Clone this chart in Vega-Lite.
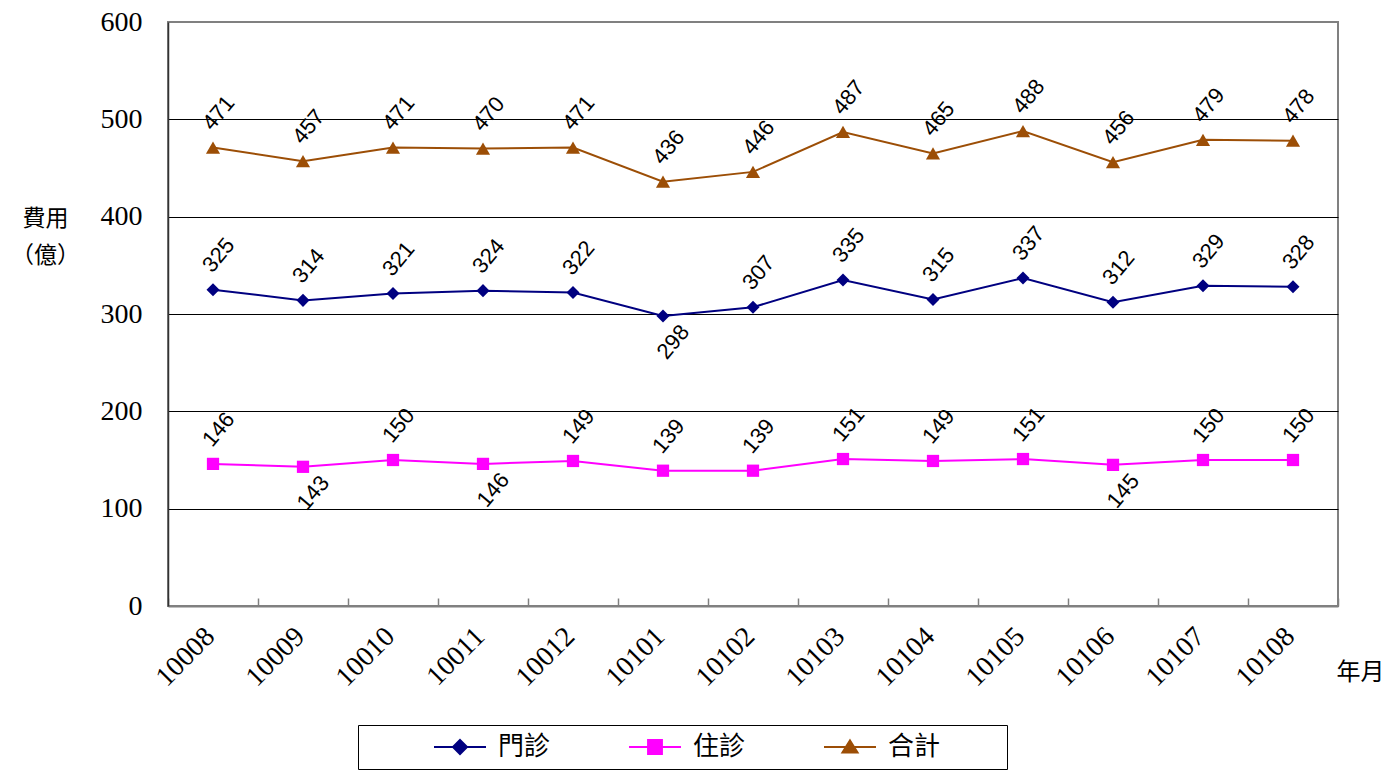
{
  "$schema": "https://vega.github.io/schema/vega-lite/v6.json",
  "width": 1170,
  "height": 584,
  "autosize": {"type": "none"},
  "padding": {"left": 168, "top": 22, "right": 54, "bottom": 165},
  "background": "white",
  "config": {
    "view": {"stroke": "#808080", "strokeWidth": 2}
  },
  "data": {
    "values": [
      {"month": "10008", "series": "門診", "value": 325},
      {"month": "10009", "series": "門診", "value": 314},
      {"month": "10010", "series": "門診", "value": 321},
      {"month": "10011", "series": "門診", "value": 324},
      {"month": "10012", "series": "門診", "value": 322},
      {"month": "10101", "series": "門診", "value": 298},
      {"month": "10102", "series": "門診", "value": 307},
      {"month": "10103", "series": "門診", "value": 335},
      {"month": "10104", "series": "門診", "value": 315},
      {"month": "10105", "series": "門診", "value": 337},
      {"month": "10106", "series": "門診", "value": 312},
      {"month": "10107", "series": "門診", "value": 329},
      {"month": "10108", "series": "門診", "value": 328},
      {"month": "10008", "series": "住診", "value": 146},
      {"month": "10009", "series": "住診", "value": 143},
      {"month": "10010", "series": "住診", "value": 150},
      {"month": "10011", "series": "住診", "value": 146},
      {"month": "10012", "series": "住診", "value": 149},
      {"month": "10101", "series": "住診", "value": 139},
      {"month": "10102", "series": "住診", "value": 139},
      {"month": "10103", "series": "住診", "value": 151},
      {"month": "10104", "series": "住診", "value": 149},
      {"month": "10105", "series": "住診", "value": 151},
      {"month": "10106", "series": "住診", "value": 145},
      {"month": "10107", "series": "住診", "value": 150},
      {"month": "10108", "series": "住診", "value": 150},
      {"month": "10008", "series": "合計", "value": 471},
      {"month": "10009", "series": "合計", "value": 457},
      {"month": "10010", "series": "合計", "value": 471},
      {"month": "10011", "series": "合計", "value": 470},
      {"month": "10012", "series": "合計", "value": 471},
      {"month": "10101", "series": "合計", "value": 436},
      {"month": "10102", "series": "合計", "value": 446},
      {"month": "10103", "series": "合計", "value": 487},
      {"month": "10104", "series": "合計", "value": 465},
      {"month": "10105", "series": "合計", "value": 488},
      {"month": "10106", "series": "合計", "value": 456},
      {"month": "10107", "series": "合計", "value": 479},
      {"month": "10108", "series": "合計", "value": 478}
    ]
  },
  "encoding": {
    "x": {
      "field": "month",
      "type": "nominal",
      "sort": null,
      "scale": {"type": "band", "paddingInner": 0, "paddingOuter": 0},
      "axis": {
        "title": "年月",
        "titleFont": "Noto Sans CJK TC",
        "titleFontSize": 24,
        "titleFontWeight": "normal",
        "titleAngle": 0,
        "titleX": 1192,
        "titleY": 66,
        "titleAlign": "center",
        "titleBaseline": "middle",
        "labelAngle": -45,
        "labelAlign": "right",
        "labelBaseline": "middle",
        "labelFont": "Liberation Serif",
        "labelFontSize": 28,
        "labelColor": "black",
        "labelPadding": 34,
        "labelOffset": -3,
        "tickBand": "extent",
        "tickSize": -8,
        "tickColor": "#808080",
        "tickWidth": 1.5,
        "domainColor": "#808080",
        "domainWidth": 2,
        "grid": false
      }
    },
    "y": {
      "field": "value",
      "type": "quantitative",
      "scale": {"domain": [0, 600], "nice": false, "zero": true},
      "axis": {
        "values": [0, 100, 200, 300, 400, 500, 600],
        "title": ["費用", "（億）"],
        "titleFont": "Noto Sans CJK TC",
        "titleFontSize": 23,
        "titleFontWeight": "normal",
        "titleAngle": 0,
        "titleX": -123,
        "titleY": 196,
        "titleAlign": "center",
        "titleBaseline": "middle",
        "titleLineHeight": 37,
        "labelFont": "Liberation Serif",
        "labelFontSize": 28,
        "labelColor": "black",
        "labelPadding": 26,
        "ticks": false,
        "tickSize": 0,
        "domainColor": "#333333",
        "domainWidth": 1.5,
        "grid": true,
        "gridColor": {"condition": {"test": "datum.value == 600 || datum.value == 0", "value": "#808080"}, "value": "black"},
        "gridWidth": 1,
        "gridOpacity": 1
      }
    },
    "color": {
      "field": "series",
      "type": "nominal",
      "scale": {"domain": ["門診", "住診", "合計"], "range": ["#000080", "#FF00FF", "#9C4E06"]},
      "legend": {
        "orient": "none",
        "legendX": 190,
        "legendY": 703,
        "direction": "horizontal",
        "strokeColor": "black",
        "fillColor": "white",
        "padding": 9,
        "title": "　",
        "titleFont": "Noto Sans CJK TC",
        "titleOrient": "left",
        "titleFontSize": 26,
        "titlePadding": 80,
        "labelFont": "Noto Sans CJK TC",
        "labelFontSize": 26,
        "labelColor": "black",
        "labelOffset": 25,
        "columnPadding": 74,
        "symbolSize": 300,
        "symbolStrokeWidth": 2,
        "labelExpr": "datum.label == '合計' ? '合計\u2800\u2800\u2800' : datum.label",
        "encode": {
          "symbols": {
            "update": {
              "shape": {"signal": "datum.value === '門診' ? 'M-3,0H3M0,-0.81L0.81,0L0,0.81L-0.81,0Z' : datum.value === '住診' ? 'M-3,0H3M-0.8,-0.8H0.8V0.8H-0.8Z' : 'M-3,0H3M0,-0.75L0.87,0.64H-0.87Z'"},
              "fill": {"scale": "color", "field": "value"},
              "stroke": {"scale": "color", "field": "value"},
              "strokeWidth": {"value": 2},
              "strokeOpacity": {"value": 1},
              "fillOpacity": {"value": 1},
              "opacity": {"value": 1}
            }
          }
        }
      }
    }
  },
  "layer": [
    {
      "mark": {"type": "line", "strokeWidth": 2}
    },
    {
      "transform": [{"filter": "datum.series == '門診'"}],
      "mark": {"type": "point", "filled": true, "opacity": 1, "shape": "diamond", "size": 170}
    },
    {
      "transform": [{"filter": "datum.series == '住診'"}],
      "mark": {"type": "point", "filled": true, "opacity": 1, "shape": "square", "size": 150}
    },
    {
      "transform": [{"filter": "datum.series == '合計'"}],
      "mark": {"type": "point", "filled": true, "opacity": 1, "shape": "triangle-up", "size": 200}
    },
    {
      "transform": [
        {"filter": "!((datum.series == '住診' && indexof(['10009','10011','10106'], datum.month) >= 0) || (datum.series == '門診' && datum.month == '10101'))"}
      ],
      "mark": {"type": "text", "font": "Liberation Sans Narrow, Liberation Sans", "fontSize": 22, "angle": 310, "align": "center", "baseline": "middle", "radius": 35, "theta": 0.16},
      "encoding": {
        "text": {"field": "value", "type": "quantitative"},
        "color": {"value": "black"}
      }
    },
    {
      "transform": [
        {"filter": "(datum.series == '住診' && indexof(['10009','10011','10106'], datum.month) >= 0) || (datum.series == '門診' && datum.month == '10101')"}
      ],
      "mark": {"type": "text", "font": "Liberation Sans Narrow, Liberation Sans", "fontSize": 22, "angle": 310, "align": "center", "baseline": "middle", "radius": 28, "theta": 2.77},
      "encoding": {
        "text": {"field": "value", "type": "quantitative"},
        "color": {"value": "black"}
      }
    }
  ]
}
